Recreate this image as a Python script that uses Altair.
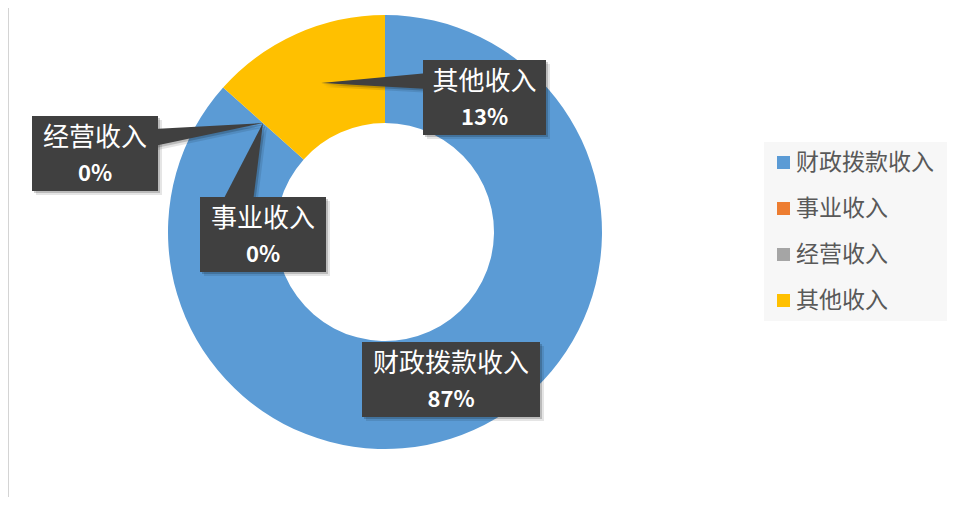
import altair as alt
import pandas as pd

# ---- data ----
categories = ["财政拨款收入", "事业收入", "经营收入", "其他收入"]
shares = [86.6, 0.0, 0.0, 13.4]
colors = ["#5B9BD5", "#ED7D31", "#A5A5A5", "#FFC000"]

# ---- layout (chart pixel coords) ----
W, H = 939, 489
CX, CY = 377, 224
R_IN, R_OUT = 109, 217
FONT = "Noto Sans CJK SC"
BOX_FILL = "#404040"

boxes = {
    "其他收入": (415, 52, 538, 127),
    "经营收入": (24, 108, 150, 183),
    "事业收入": (192, 189, 318, 264),
    "财政拨款收入": (354, 334, 532, 409),
}
pointers = {
    "其他收入": [(313, 75), (420, 65), (420, 81)],
    "经营收入": [(255, 115), (146, 121), (146, 138)],
    "事业收入": [(255, 115), (214, 194), (245, 194)],
}

labels = [f"{round(v)}%" for v in shares]
label_of = dict(zip(categories, labels))

df = pd.DataFrame({"项目": categories, "占比": shares, "序号": list(range(len(categories)))})

one = alt.Data(values=[{"k": 1}])

border = alt.Chart(one).mark_rule(color="#D4D4D4", strokeWidth=1).encode(
    x=alt.value(0.5), y=alt.value(0), y2=alt.value(H)
)

legend_bg = alt.Chart(one).mark_rect(color="#F7F7F7").encode(
    x=alt.value(756), x2=alt.value(939), y=alt.value(134), y2=alt.value(313)
)

donut = alt.Chart(df).mark_arc(innerRadius=R_IN, outerRadius=R_OUT).encode(
    theta=alt.Theta("占比:Q", stack=True),
    order=alt.Order("序号:Q"),
    color=alt.Color(
        "项目:N",
        scale=alt.Scale(domain=categories, range=colors),
        legend=alt.Legend(
            title=None, orient="none", legendX=764, legendY=143,
            symbolType="square", symbolSize=169, symbolStrokeWidth=0,
            labelFont=FONT, labelFontSize=23, labelColor="#595959",
            labelOffset=1, rowPadding=22, padding=0, labelLimit=300,
        ),
    ),
    x=alt.value(CX),
    y=alt.value(CY),
)


def tri_path(pts, dx=0, dy=0):
    (x1, y1), (x2, y2), (x3, y3) = pts
    return f"M {x1+dx} {y1+dy} L {x2+dx} {y2+dy} L {x3+dx} {y3+dy} Z"


layers = [border, legend_bg, donut]

# shadows
for (sx, op) in [(4, 0.10), (2, 0.18)]:
    for cat, pts in pointers.items():
        layers.append(
            alt.Chart(one).mark_point(
                shape=tri_path(pts, sx, sx), size=4, filled=True,
                color="#000000", opacity=op, strokeWidth=0,
            ).encode(x=alt.value(0), y=alt.value(0))
        )
    for cat, (x0, y0, x1, y1) in boxes.items():
        layers.append(
            alt.Chart(one).mark_rect(color="#000000", opacity=op).encode(
                x=alt.value(x0 + sx), x2=alt.value(x1 + sx),
                y=alt.value(y0 + sx), y2=alt.value(y1 + sx),
            )
        )

# pointers
for cat, pts in pointers.items():
    layers.append(
        alt.Chart(one).mark_point(
            shape=tri_path(pts), size=4, filled=True,
            color=BOX_FILL, opacity=1, strokeWidth=0,
        ).encode(x=alt.value(0), y=alt.value(0))
    )

# boxes and texts
for cat, (x0, y0, x1, y1) in boxes.items():
    cx = (x0 + x1) / 2
    cy = (y0 + y1) / 2
    layers.append(
        alt.Chart(one).mark_rect(color=BOX_FILL).encode(
            x=alt.value(x0), x2=alt.value(x1), y=alt.value(y0), y2=alt.value(y1)
        )
    )
    layers.append(
        alt.Chart(one).mark_text(
            text=cat, font=FONT, fontSize=26, color="#FFFFFF",
            align="center", baseline="middle",
        ).encode(x=alt.value(cx), y=alt.value(cy - 16))
    )
    layers.append(
        alt.Chart(one).mark_text(
            text=label_of[cat], font=FONT, fontSize=22, fontWeight="bold",
            color="#FFFFFF", align="center", baseline="middle",
        ).encode(x=alt.value(cx), y=alt.value(cy + 20))
    )

chart = alt.layer(*layers).properties(
    width=W, height=H, padding=0,
    autosize=alt.AutoSizeParams(type="none"),
    background="#FFFFFF",
).configure_view(stroke=None)

chart.save("out.html", embed_options={"renderer": "svg", "actions": False})
